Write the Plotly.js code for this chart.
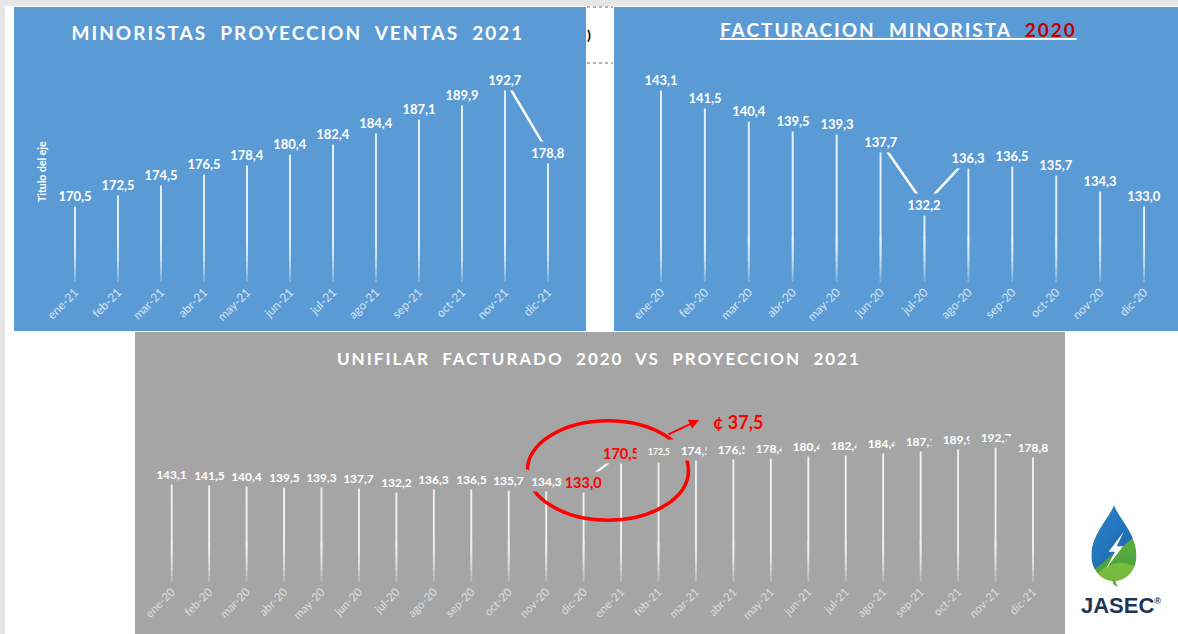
<!DOCTYPE html>
<html>
<head>
<meta charset="utf-8">
<script src="https://cdn.plot.ly/plotly-3.0.1.min.js"></script>
<style>
html,body{margin:0;padding:0;background:#ffffff;}
#chart{width:1178px;height:634px;}
</style>
</head>
<body>
<div id="chart"></div>
<script>
// ---------------- DATA ----------------
const meses2021 = ['ene-21','feb-21','mar-21','abr-21','may-21','jun-21','jul-21','ago-21','sep-21','oct-21','nov-21','dic-21'];
const ventas2021 = [170.5,172.5,174.5,176.5,178.4,180.4,182.4,184.4,187.1,189.9,192.7,178.8];

const meses2020 = ['ene-20','feb-20','mar-20','abr-20','may-20','jun-20','jul-20','ago-20','sep-20','oct-20','nov-20','dic-20'];
const facturacion2020 = [143.1,141.5,140.4,139.5,139.3,137.7,132.2,136.3,136.5,135.7,134.3,133.0];

const mesesUnifilar = meses2020.concat(meses2021);
const unifilar = facturacion2020.concat(ventas2021);

const tituloVentas = 'MINORISTAS  PROYECCION  VENTAS  2021';
const tituloFact = 'FACTURACION  MINORISTA  ';
const tituloFactAnio = '2020';
const tituloUnifilar = 'UNIFILAR  FACTURADO  2020  VS  PROYECCION  2021';
const tituloEje = 'Titulo del eje';

// ---------------- HELPERS ----------------
const W = 1178, H = 634;
const X = p => p / W;
const Y = p => 1 - p / H;
const BLUE = '#5B9BD5', GRAY = '#A5A5A5', RED = '#FF0000';
const FONT = 'Lato, "Open Sans", sans-serif';
const fmt = v => v.toFixed(1).replace('.', ',');

// drop lines: solid upper part + overlapping translucent layers that fade toward the axis
function drops(cats, vals, xa, ya, ymin, fadeTop, width) {
  const out = [];
  out.push({type:'bar', x:cats, y:vals.map(v => Math.max(0, v - fadeTop)), base:fadeTop, width:width,
    xaxis:xa, yaxis:ya, marker:{color:'rgba(255,255,255,0.85)', line:{width:0}}, hoverinfo:'skip', showlegend:false});
  const n = 7;
  for (let k = 0; k < n; k++) {
    const lo = ymin + (fadeTop - ymin) * k / n;
    out.push({type:'bar', x:cats, y:cats.map(() => fadeTop - lo), base:lo, width:width,
      xaxis:xa, yaxis:ya, marker:{color:'rgba(255,255,255,0.24)', line:{width:0}},
      hoverinfo:'skip', showlegend:false});
  }
  return out;
}
function lineTrace(cats, vals, xa, ya, w) {
  return {type:'scatter', mode:'lines', x:cats, y:vals, xaxis:xa, yaxis:ya,
    line:{color:'#ffffff', width:w}, hoverinfo:'skip', showlegend:false};
}
function paperText(px, py, text, font, extra) {
  return Object.assign({xref:'paper', yref:'paper', x:X(px), y:Y(py), xanchor:'center', yanchor:'middle',
    text:text, showarrow:false, font:font}, extra || {});
}

// axis ranges (px -> data mapping chosen to match the picture)
const R1 = [153.8, 196.5], R2 = [125.5, 144.8], R3 = [0, 260];

const traces = [].concat(
  drops(meses2021, ventas2021, 'x', 'y', R1[0], R1[0] + 9, 0.045),
  [lineTrace(meses2021, ventas2021, 'x', 'y', 2.5)],
  drops(meses2020, facturacion2020, 'x2', 'y2', R2[0], R2[0] + 4, 0.045),
  [lineTrace(meses2020, facturacion2020, 'x2', 'y2', 2.5)],
  drops(mesesUnifilar, unifilar, 'x3', 'y3', R3[0], R3[0] + 55, 0.05),
  [lineTrace(mesesUnifilar, unifilar, 'x3', 'y3', 2.2)]
);

// ---------------- ANNOTATIONS ----------------
const ann = [];
ventas2021.forEach((v, i) => ann.push({xref:'x', yref:'y', x:meses2021[i], y:v, text:'<b>' + fmt(v) + '</b>',
  showarrow:false, bgcolor:BLUE, width:42, height:19, font:{family:FONT, size:13, color:'#ffffff'}}));
facturacion2020.forEach((v, i) => ann.push({xref:'x2', yref:'y2', x:meses2020[i], y:v, text:'<b>' + fmt(v) + '</b>',
  showarrow:false, bgcolor:BLUE, width:42, height:19, font:{family:FONT, size:13, color:'#ffffff'}}));

const idxDic = meses2020.length - 1, idxEne = meses2020.length;
unifilar.forEach((v, i) => {
  let size = 12, color = '#ffffff', w = 37;
  if (i === idxDic || i === idxEne) { size = 14.5; color = RED; }
  if (i === idxEne + 1) { size = 8.5; w = 42; }
  if (i > idxEne + 1) { w = 50; }
  ann.push({xref:'x3', yref:'y3', x:mesesUnifilar[i], y:v, text:'<b>' + fmt(v) + '</b>',
    showarrow:false, bgcolor:GRAY, width:w, height:18, font:{family:FONT, size:size, color:color}});
});

// difference callout
const diff = ventas2021[0] - facturacion2020[facturacion2020.length - 1];
ann.push({xref:'paper', yref:'paper', x:X(699), y:Y(420), ax:-32, ay:15, axref:'pixel', ayref:'pixel',
  xanchor:'center', yanchor:'middle', text:'', showarrow:true, arrowhead:2, arrowsize:1, arrowwidth:2, arrowcolor:RED});
ann.push(paperText(738, 422, '<b>¢ ' + fmt(diff) + '</b>', {family:FONT, size:18, color:RED}));

// titles
ann.push(paperText(898, 29,
  '<b><u><span style="letter-spacing:2px">' + tituloFact + '</span><span style="letter-spacing:2px;color:#C00000">' + tituloFactAnio + '</span></u></b>',
  {family:FONT, size:19, color:'#ffffff'}));
ann.push(paperText(599, 358, '<b><span style="letter-spacing:2px">' + tituloUnifilar + '</span></b>',
  {family:FONT, size:17, color:'#ffffff'}));
ann.push(paperText(42, 172, '<b>' + tituloEje + '</b>', {family:FONT, size:10.5, color:'#ffffff'}, {textangle:-90}));
// small stray mark between panels
ann.push(paperText(589, 35, '<b>)</b>', {family:FONT, size:14, color:'#000000'}));
// logo text
ann.push(paperText(1121, 605, '<b>JASEC<sup><span style="font-size:9px">®</span></sup></b>',
  {family:'"Liberation Sans", Arial, sans-serif', size:22, color:'#1d3557'}));

// ---------------- SHAPES ----------------
const shapes = [
  {type:'rect', xref:'paper', yref:'paper', x0:0, x1:1, y0:Y(6), y1:1, fillcolor:'#e6e6e6', line:{width:0}, layer:'below'},
  {type:'rect', xref:'paper', yref:'paper', x0:0, x1:X(5), y0:0, y1:1, fillcolor:'#e6e6e6', line:{width:0}, layer:'below'},
  {type:'rect', xref:'paper', yref:'paper', x0:X(14), x1:X(586), y0:Y(331), y1:Y(7), fillcolor:BLUE, line:{width:0}, layer:'below'},
  {type:'rect', xref:'paper', yref:'paper', x0:X(614), x1:1, y0:Y(331), y1:Y(7), fillcolor:BLUE, line:{width:0}, layer:'below'},
  {type:'rect', xref:'paper', yref:'paper', x0:X(135), x1:X(1065), y0:0, y1:Y(332), fillcolor:GRAY, line:{width:0}, layer:'below'},
  {type:'line', xref:'paper', yref:'paper', x0:X(587), x1:X(613), y0:Y(7), y1:Y(7), line:{color:'#666', width:1.2, dash:'dot'}},
  {type:'line', xref:'paper', yref:'paper', x0:X(587), x1:X(613), y0:Y(63), y1:Y(63), line:{color:'#666', width:1.2, dash:'dot'}},
  // highlight ellipse around the 2020 -> 2021 jump
  {type:'circle', xref:'x3', yref:'y3', x0:idxDic - 1.5, x1:idxEne + 1.8, y0:82, y1:214,
    line:{color:RED, width:3.5}, layer:'above'}
];

// ---------------- LOGO ----------------
const logoSvg =
"<svg xmlns='http://www.w3.org/2000/svg' width='60' height='96' viewBox='0 0 60 96'>" +
"<defs>" +
"<clipPath id='d'><path d='M30 2 C 24 16, 5 34, 5 56 C 5 72, 16 84, 30 84 C 44 84, 55 72, 55 56 C 55 34, 36 16, 30 2 Z'/></clipPath>" +
"<linearGradient id='gb' x1='0' y1='0' x2='1' y2='1'><stop offset='0' stop-color='#2a86cf'/><stop offset='1' stop-color='#1b5fa6'/></linearGradient>" +
"<linearGradient id='gg' x1='0' y1='0' x2='0' y2='1'><stop offset='0' stop-color='#6dbb45'/><stop offset='1' stop-color='#3f9a3a'/></linearGradient>" +
"</defs>" +
"<g clip-path='url(#d)'>" +
"<rect x='0' y='0' width='60' height='96' fill='url(#gg)'/>" +
"<path d='M0 0 L60 0 L60 30 L0 78 Z' fill='url(#gb)'/>" +
"<path d='M5 84 C 18 62, 44 60, 56 70 L 56 90 L 5 90 Z' fill='#8cc63f' opacity='0.7'/>" +
"</g>" +
"<path d='M41 30 L24 52 L31 52 L21 71 L40 46 L33 46 Z' fill='#ffffff'/>" +
"<path d='M28 83 Q 29 90 35 90 Q 31 87 32 83 Z' fill='#5aa83a'/>" +
"</svg>";

const layout = {
  width:W, height:H,
  margin:{l:0, r:0, t:0, b:0},
  paper_bgcolor:'#ffffff', plot_bgcolor:'rgba(0,0,0,0)',
  showlegend:false, barmode:'overlay', hovermode:false,
  title:{text:'<b><span style="letter-spacing:2px">' + tituloVentas + '</span></b>',
    xref:'container', yref:'container', x:X(298), y:Y(33), xanchor:'center', yanchor:'middle',
    font:{family:FONT, size:19, color:'#ffffff'}},
  xaxis:{domain:[X(53.5), X(569.5)], anchor:'y', type:'category', range:[-0.5, 11.5], tickangle:-45,
    tickfont:{family:FONT, size:12, color:'#d5e3f2'}, showgrid:false, zeroline:false, showline:false, ticks:''},
  yaxis:{domain:[Y(282), Y(60)], anchor:'x', range:R1, showgrid:false, zeroline:false, showline:false,
    showticklabels:false, ticks:''},
  xaxis2:{domain:[X(639), X(1166)], anchor:'y2', type:'category', range:[-0.5, 11.5], tickangle:-45,
    tickfont:{family:FONT, size:12, color:'#d5e3f2'}, showgrid:false, zeroline:false, showline:false, ticks:''},
  yaxis2:{domain:[Y(282), Y(60)], anchor:'x2', range:R2, showgrid:false, zeroline:false, showline:false,
    showticklabels:false, ticks:''},
  xaxis3:{domain:[X(153), X(1051.7)], anchor:'y3', type:'category', range:[-0.5, 23.5], tickangle:-45,
    tickfont:{family:FONT, size:11.5, color:'#dedede'}, showgrid:false, zeroline:false, showline:false, ticks:''},
  yaxis3:{domain:[Y(582), Y(386)], anchor:'x3', range:R3, showgrid:false, zeroline:false, showline:false,
    showticklabels:false, ticks:''},
  annotations:ann,
  shapes:shapes,
  images:[{source:'data:image/svg+xml;charset=utf-8,' + encodeURIComponent(logoSvg),
    xref:'paper', yref:'paper', x:X(1087), y:Y(504), sizex:X(54), sizey:88 / H,
    xanchor:'left', yanchor:'top', sizing:'stretch', layer:'above'}]
};

Plotly.newPlot('chart', traces, layout, {staticPlot:true, displayModeBar:false});
</script>
</body>
</html>
